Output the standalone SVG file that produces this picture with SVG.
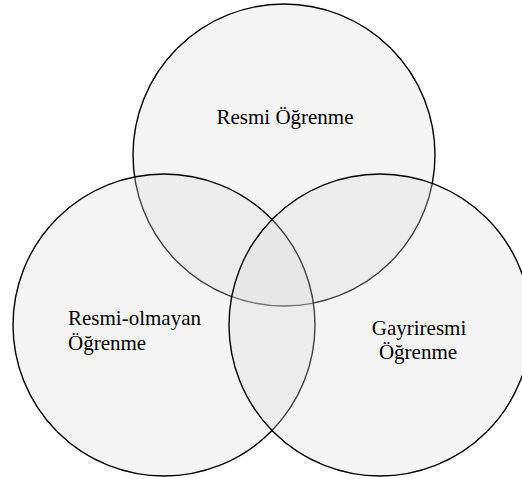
<svg xmlns="http://www.w3.org/2000/svg" width="522" height="482" viewBox="0 0 522 482">
<style>
.c{fill:#d9d9d9;fill-opacity:0.3;stroke:#000;stroke-width:1.4}
.t{font-family:"Liberation Serif","Times New Roman",serif;font-size:21px;fill:#000}
</style>
<rect width="522" height="482" fill="#fff"/>
<g id="connectors"></g>
<g id="resmi">
<circle class="c" cx="284" cy="155" r="151"/>
<text class="t" x="285" y="124" text-anchor="middle">Resmi Öğrenme</text>
</g>
<g id="resmi-olmayan">
<circle class="c" cx="164" cy="325" r="151"/>
<text class="t" x="68" y="325">Resmi-olmayan</text>
<text class="t" x="68" y="350">Öğrenme</text>
</g>
<g id="gayriresmi">
<circle class="c" cx="380" cy="325" r="151"/>
<text class="t" x="419" y="335" text-anchor="middle">Gayriresmi</text>
<text class="t" x="418" y="359" text-anchor="middle">Öğrenme</text>
</g>
</svg>
